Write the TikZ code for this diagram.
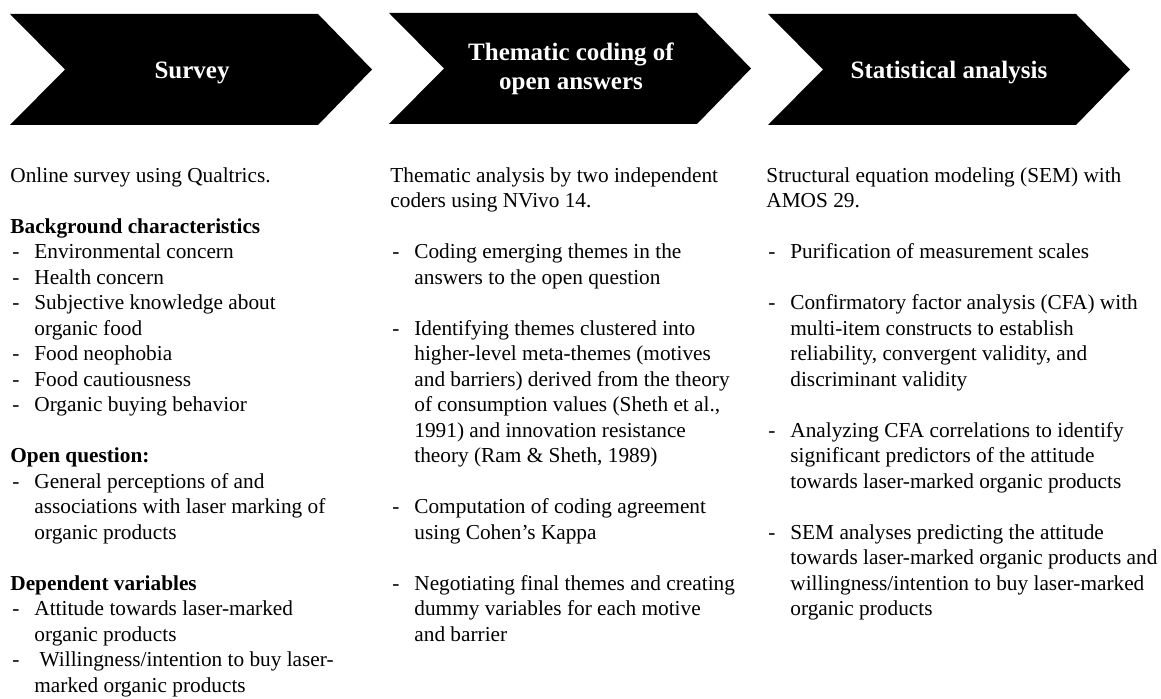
\documentclass[tikz,border=0pt]{standalone}
\usepackage{fontspec}
\setmainfont{Liberation Serif}
\newcommand{\dashitem}{\makebox[12pt][l]{\hspace{1pt}-}}
\newcommand{\dashgap}{\hspace*{12pt}}

\begin{document}
\begin{tikzpicture}[x=0.5pt, y=-0.5pt,
    phase/.style={fill=black},
    phasetitle/.style={text=white, align=center, inner sep=0pt, font=\fontsize{12.5pt}{14.5pt}\selectfont\bfseries},
    steptext/.style={anchor=north west, align=left, inner sep=0pt, font=\fontsize{10.65pt}{12.75pt}\selectfont}]
    \useasboundingbox (0,0) rectangle (1161,699);
    %process arrows
    \fill[phase] (10,14) -- ++(308,0) -- ++(54,55.5) -- ++(-54,55.5) -- ++(-308,0) -- ++(55,-55.5) -- cycle;
    \fill[phase] (389,13) -- ++(308,0) -- ++(54,55.5) -- ++(-54,55.5) -- ++(-308,0) -- ++(55,-55.5) -- cycle;
    \fill[phase] (768,14) -- ++(308,0) -- ++(54,55.5) -- ++(-54,55.5) -- ++(-308,0) -- ++(55,-55.5) -- cycle;
    \node[phasetitle] at (192,73) (survey){Survey};
    \node[phasetitle] at (571,69) (coding){Thematic coding of\\open answers};
    \node[phasetitle] at (949,73) (stats){Statistical analysis};
    %what happens in each step
    \node[steptext] at (10,167) (surveytext){Online survey using Qualtrics.\\[12.75pt]
      \textbf{Background characteristics}\\
      \dashitem Environmental concern\\
      \dashitem Health concern\\
      \dashitem Subjective knowledge about\\
      \dashgap organic food\\
      \dashitem Food neophobia\\
      \dashitem Food cautiousness\\
      \dashitem Organic buying behavior\\[12.75pt]
      \textbf{Open question:}\\
      \dashitem General perceptions of and\\
      \dashgap associations with laser marking of\\
      \dashgap organic products\\[12.75pt]
      \textbf{Dependent variables}\\
      \dashitem Attitude towards laser-marked\\
      \dashgap organic products\\
      \dashitem \ Willingness/intention to buy laser-\\
      \dashgap marked organic products};
    \node[steptext] at (390,167) (codingtext){Thematic analysis by two independent\\
      coders using NVivo 14.\\[12.75pt]
      \dashitem Coding emerging themes in the\\
      \dashgap answers to the open question\\[12.75pt]
      \dashitem Identifying themes clustered into\\
      \dashgap higher-level meta-themes (motives\\
      \dashgap and barriers) derived from the theory\\
      \dashgap of consumption values (Sheth et al.,\\
      \dashgap 1991) and innovation resistance\\
      \dashgap theory (Ram \& Sheth, 1989)\\[12.75pt]
      \dashitem Computation of coding agreement\\
      \dashgap using Cohen’s Kappa\\[12.75pt]
      \dashitem Negotiating final themes and creating\\
      \dashgap dummy variables for each motive\\
      \dashgap and barrier};
    \node[steptext] at (766,167) (statstext){Structural equation modeling (SEM) with\\
      AMOS 29.\\[12.75pt]
      \dashitem Purification of measurement scales\\[12.75pt]
      \dashitem Confirmatory factor analysis (CFA) with\\
      \dashgap multi-item constructs to establish\\
      \dashgap reliability, convergent validity, and\\
      \dashgap discriminant validity\\[12.75pt]
      \dashitem Analyzing CFA correlations to identify\\
      \dashgap significant predictors of the attitude\\
      \dashgap towards laser-marked organic products\\[12.75pt]
      \dashitem SEM analyses predicting the attitude\\
      \dashgap towards laser-marked organic products and\\
      \dashgap willingness/intention to buy laser-marked\\
      \dashgap organic products};
\end{tikzpicture}
\end{document}
